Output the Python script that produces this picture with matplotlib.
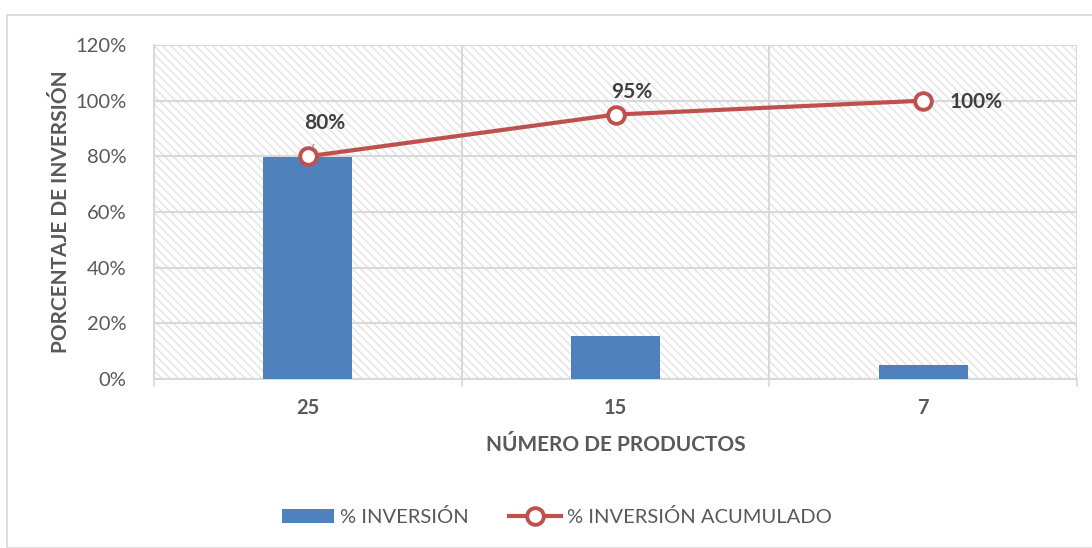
import matplotlib
matplotlib.use("Agg")
import matplotlib.pyplot as plt
from matplotlib.patches import Rectangle
from matplotlib.ticker import FixedLocator, PercentFormatter

plt.rcParams['font.family'] = ['Lato', 'DejaVu Sans']
plt.rcParams['hatch.color'] = '#e3e3e3'
plt.rcParams['hatch.linewidth'] = 1.0

categories = ['25', '15', '7']
pct_inversion = [79.7, 15.4, 5.0]
pct_acumulado = [80, 95, 100]
acum_labels = ['80%', '95%', '100%']
y_ticks = [0, 20, 40, 60, 80, 100, 120]

blue = '#4F81BD'
red = '#C0504D'
grid = '#d9d9d9'
txt = '#595959'

fig = plt.figure(figsize=(10.92, 5.48), dpi=100)
ax = fig.add_axes([154/1092, 1-379/548, (1077-154)/1092, (379-45)/548])

# hatched background
ax.add_patch(Rectangle((0, 0), 1, 1, transform=ax.transAxes, facecolor='white',
                       edgecolor='#e3e3e3', hatch='\\\\\\\\', linewidth=0, zorder=0))

x = list(range(len(categories)))
bars = ax.bar(x, pct_inversion, width=0.29, color=blue, zorder=3, label='% INVERSIÓN')
line, = ax.plot(x, pct_acumulado, color=red, linewidth=3, marker='o', markersize=12,
                markerfacecolor='white', markeredgecolor=red, markeredgewidth=2.8,
                zorder=4, label='% INVERSIÓN ACUMULADO')

ax.set_xlim(-0.5, 2.5)
ax.set_ylim(0, 120)
ax.set_yticks(y_ticks)
ax.yaxis.set_major_formatter(PercentFormatter(decimals=0))
ax.set_xticks(x)
ax.set_xticklabels(categories, fontweight='bold', fontsize=14.5, color=txt)
ax.xaxis.set_minor_locator(FixedLocator([-0.5, 0.5, 1.5, 2.5]))
ax.tick_params(axis='x', which='major', length=0, pad=14)
ax.tick_params(axis='x', which='minor', length=6, color=grid, width=1.2)
ax.tick_params(axis='y', length=0, labelsize=14.5, labelcolor=txt, pad=20)

ax.grid(axis='y', color=grid, linewidth=1.5, zorder=1)
ax.grid(axis='x', which='minor', color=grid, linewidth=1.5, zorder=1)
ax.set_axisbelow(True)
for s in ['top', 'right']:
    ax.spines[s].set_visible(False)
for s in ['left', 'bottom']:
    ax.spines[s].set_color(grid)
    ax.spines[s].set_linewidth(1.5)

ax.set_xlabel('NÚMERO DE PRODUCTOS', fontweight='bold', fontsize=15, color=txt, labelpad=12)
ax.set_ylabel('PORCENTAJE DE INVERSIÓN', fontweight='bold', fontsize=15, color=txt, labelpad=3)

# data labels
ax.annotate(acum_labels[0], xy=(x[0], pct_acumulado[0]), xytext=(12, 24),
            textcoords='offset points', ha='center', va='center', fontsize=15,
            fontweight='bold', color='#404040',
            arrowprops=dict(arrowstyle='-', color='#a6a6a6', lw=1.2, shrinkA=7, shrinkB=0))
ax.annotate(acum_labels[1], xy=(x[1], pct_acumulado[1]), xytext=(12, 16),
            textcoords='offset points', ha='center', va='center', fontsize=15,
            fontweight='bold', color='#404040')
ax.annotate(acum_labels[2], xy=(x[2], pct_acumulado[2]), xytext=(38, -1),
            textcoords='offset points', ha='center', va='center', fontsize=15,
            fontweight='bold', color='#404040')

leg = fig.legend(handles=[bars, line], loc='center', bbox_to_anchor=(0.51, 1-517/548),
                 ncol=2, frameon=False, fontsize=14.5, handlelength=2.6,
                 columnspacing=2.0, handletextpad=0.3)
for t in leg.get_texts():
    t.set_color(txt)

# outer chart border
fig.add_artist(Rectangle((7/1092, 0), 1.2, 1-15/548, transform=fig.transFigure,
                         fill=False, edgecolor='#d9d9d9', linewidth=1.2))

fig.savefig('out.png', dpi=100)
